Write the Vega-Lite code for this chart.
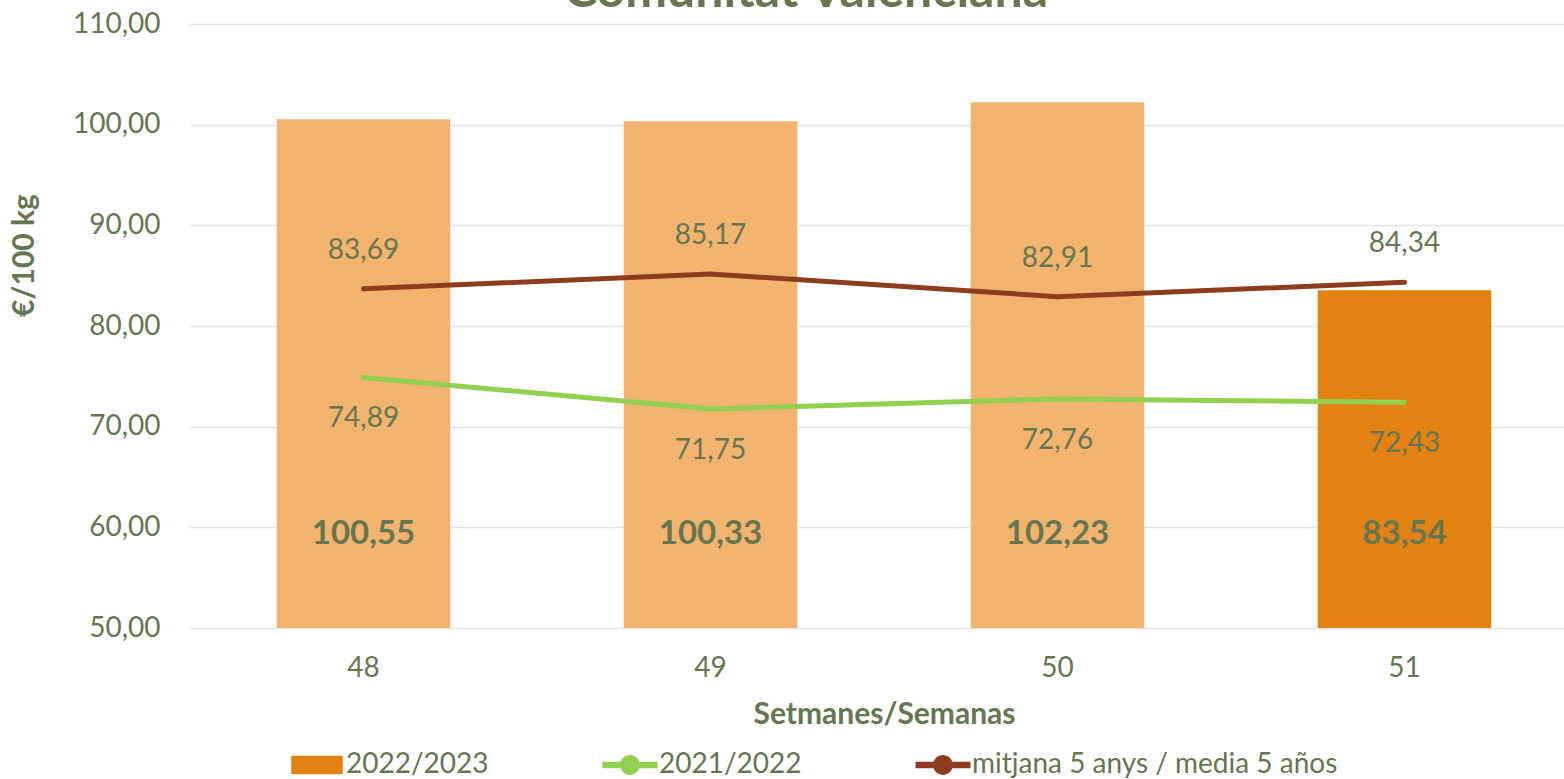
{
  "$schema": "https://vega.github.io/schema/vega-lite/v6.json",
  "width": 1388,
  "height": 604,
  "autosize": {"type": "none"},
  "padding": {"left": 190, "top": 24, "right": 0, "bottom": 151},
  "background": "white",
  "title": {"text": "Comunitat Valenciana", "frame": "group", "anchor": "middle", "dx": -78, "dy": 47, "offset": 0, "baseline": "alphabetic", "fontSize": 50, "font": "Lato", "fontWeight": "bold", "color": "#657651"},
  "config": {
    "view": {"stroke": null},
    "font": "Lato",
    "locale": {"number": {"decimal": ",", "thousands": ".", "grouping": [3], "currency": ["", " €"]}}
  },
  "data": {"values": [
    {"week": "48", "series": "2022/2023", "value": 100.55},
    {"week": "49", "series": "2022/2023", "value": 100.33},
    {"week": "50", "series": "2022/2023", "value": 102.23},
    {"week": "51", "series": "2022/2023", "value": 83.54},
    {"week": "48", "series": "2021/2022", "value": 74.89},
    {"week": "49", "series": "2021/2022", "value": 71.75},
    {"week": "50", "series": "2021/2022", "value": 72.76},
    {"week": "51", "series": "2021/2022", "value": 72.43},
    {"week": "48", "series": "mitjana 5 anys / media 5 años", "value": 83.69},
    {"week": "49", "series": "mitjana 5 anys / media 5 años", "value": 85.17},
    {"week": "50", "series": "mitjana 5 anys / media 5 años", "value": 82.91},
    {"week": "51", "series": "mitjana 5 anys / media 5 años", "value": 84.34}
  ]},
  "encoding": {
    "x": {
      "field": "week", "type": "ordinal",
      "scale": {"paddingInner": 0.5, "paddingOuter": 0.25},
      "axis": {"title": "Setmanes/Semanas", "labelAngle": 0, "labelFontSize": 28, "labelColor": "#657651", "labelPadding": 26, "ticks": false, "domain": false, "grid": false, "titleFontSize": 30, "titleFontWeight": "bold", "titleColor": "#657651", "titlePadding": 17}
    }
  },
  "layer": [
    {
      "transform": [{"filter": "datum.series == '2022/2023'"}],
      "mark": {"type": "bar"},
      "encoding": {
        "y": {
          "field": "value", "type": "quantitative",
          "scale": {"domain": [50, 110], "nice": false, "zero": false},
          "axis": {"title": "€/100 kg", "format": ".2f", "values": [50, 60, 70, 80, 90, 100, 110], "labelFontSize": 28, "labelColor": "#657651", "labelPadding": 30, "ticks": false, "domain": false, "gridColor": "#E3E3E3", "gridWidth": 1.5, "titleFontSize": 30, "titleFontWeight": "bold", "titleColor": "#657651", "titlePadding": 33, "titleY": 231}
        },
        "y2": {"datum": 50},
        "fill": {"condition": {"test": "datum.week == '51'", "value": "#E38112"}, "value": "#F2B36F"}
      }
    },
    {
      "transform": [{"filter": "datum.series != '2022/2023'"}],
      "mark": {"type": "line", "strokeWidth": 5, "strokeCap": "round"},
      "encoding": {
        "y": {"field": "value", "type": "quantitative"},
        "color": {
          "field": "series", "type": "nominal",
          "scale": {"domain": ["2022/2023", "2021/2022", "mitjana 5 anys / media 5 años"], "range": ["#E38112", "#92D050", "#8E3C1F"]},
          "legend": {
            "orient": "none", "legendX": 113, "legendY": 727, "direction": "horizontal", "title": null,
            "labelFontSize": 28, "labelColor": "#657651", "labelFont": "Lato", "labelOffset": 15, "labelLimit": 600,
            "symbolSize": 3025, "columnPadding": 113, "padding": 0,
            "encode": {
              "symbols": {
                "update": {
                  "shape": {"signal": "datum.value == '2022/2023' ? 'M-0.9,-0.3H0.9V0.3H-0.9Z' : 'M-1,-0.12H1V0.12H-1Z M0.36,0A0.36,0.36 0 1,1 -0.36,0A0.36,0.36 0 1,1 0.36,0Z'"},
                  "fill": {"scale": "color", "field": "value"},
                  "stroke": {"signal": "datum.value == '2022/2023' ? '#92D050' : 'transparent'"},
                  "strokeWidth": {"signal": "datum.value == '2022/2023' ? 2 : 0"},
                  "opacity": {"value": 1}
                }
              }
            }
          }
        }
      }
    },
    {
      "transform": [{"filter": "datum.series == '2022/2023'"}],
      "mark": {"type": "text", "fontSize": 33, "fontWeight": "bold", "color": "#657651"},
      "encoding": {
        "y": {"datum": 59.3},
        "text": {"field": "value", "type": "quantitative", "format": ".2f"}
      }
    },
    {
      "transform": [{"filter": "datum.series == '2021/2022'"}],
      "mark": {"type": "text", "fontSize": 28, "color": "#657651", "dy": 42},
      "encoding": {
        "y": {"field": "value", "type": "quantitative"},
        "text": {"field": "value", "type": "quantitative", "format": ".2f"}
      }
    },
    {
      "transform": [{"filter": "datum.series == 'mitjana 5 anys / media 5 años'"}],
      "mark": {"type": "text", "fontSize": 28, "color": "#657651", "dy": -38},
      "encoding": {
        "y": {"field": "value", "type": "quantitative"},
        "text": {"field": "value", "type": "quantitative", "format": ".2f"}
      }
    }
  ]
}
